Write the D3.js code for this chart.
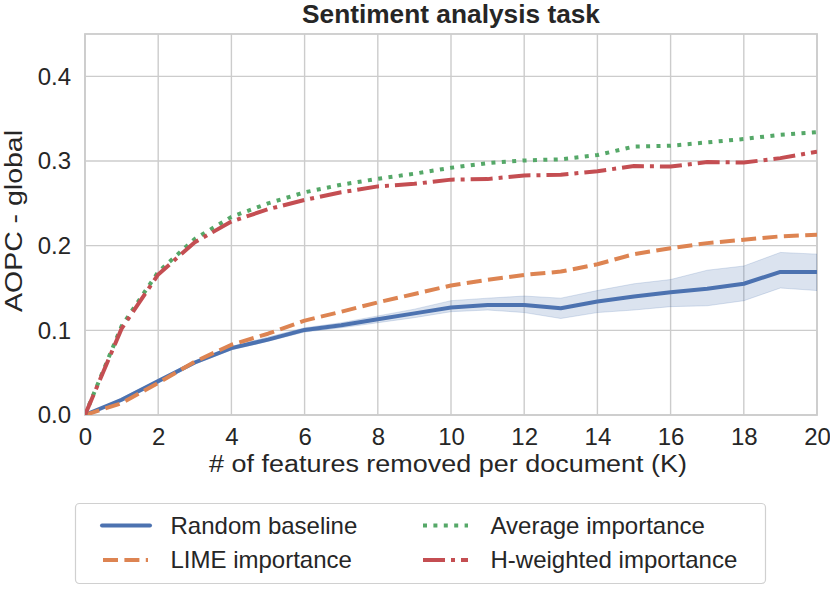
<!DOCTYPE html>
<html>
<head>
<meta charset="utf-8">
<script src="https://cdn.jsdelivr.net/npm/d3@7"></script>
<style>
html,body{margin:0;padding:0;background:#fff;}
text{font-family:"Liberation Sans",Arial,sans-serif;fill:#262626;}
</style>
</head>
<body>
<svg id="chart" width="830" height="596"></svg>
<script>
const K = d3.range(0, 21);
const randomBaseline = [0, 0.018, 0.040, 0.062, 0.079, 0.089, 0.1005, 0.106, 0.113, 0.120, 0.127, 0.130, 0.130, 0.126, 0.134, 0.140, 0.145, 0.149, 0.155, 0.169, 0.169];
const randomLower = [0, 0.016, 0.038, 0.060, 0.077, 0.087, 0.098, 0.103, 0.109, 0.115, 0.122, 0.124, 0.121, 0.114, 0.121, 0.124, 0.128, 0.129, 0.135, 0.150, 0.147];
const randomUpper = [0, 0.020, 0.042, 0.064, 0.081, 0.092, 0.103, 0.109, 0.117, 0.125, 0.135, 0.138, 0.1405, 0.138, 0.147, 0.155, 0.160, 0.171, 0.176, 0.192, 0.190];
const limeImportance = [0, 0.014, 0.038, 0.063, 0.083, 0.096, 0.1115, 0.122, 0.133, 0.143, 0.153, 0.1596, 0.1655, 0.1694, 0.178, 0.190, 0.197, 0.203, 0.207, 0.211, 0.213];
const averageImportance = [0, 0.105, 0.169, 0.208, 0.234, 0.250, 0.263, 0.272, 0.279, 0.285, 0.292, 0.2975, 0.3006, 0.302, 0.307, 0.317, 0.318, 0.322, 0.326, 0.331, 0.334];
const hWeightedImportance = [0, 0.102, 0.166, 0.204, 0.2285, 0.243, 0.254, 0.263, 0.270, 0.273, 0.278, 0.2786, 0.283, 0.2837, 0.288, 0.294, 0.2935, 0.2987, 0.2982, 0.3034, 0.311];
const xTicks = [0, 2, 4, 6, 8, 10, 12, 14, 16, 18, 20];
const yTicks = [0, 0.1, 0.2, 0.3, 0.4];
const seriesNames = ["Random baseline", "LIME importance", "Average importance", "H-weighted importance"];

const svg = d3.select("#chart");
const L = 85, R = 817, T = 34, B = 415;
const x = d3.scaleLinear().domain([0, 20]).range([L, R]);
const y = d3.scaleLinear().domain([0, 0.45]).range([B, T]);
const grid = "#cccccc";

// grid
svg.append("g").selectAll("line").data(xTicks).join("line")
  .attr("x1", d => x(d)).attr("x2", d => x(d)).attr("y1", T).attr("y2", B)
  .attr("stroke", grid).attr("stroke-width", 1.4);
svg.append("g").selectAll("line").data(yTicks).join("line")
  .attr("x1", L).attr("x2", R).attr("y1", d => y(d)).attr("y2", d => y(d))
  .attr("stroke", grid).attr("stroke-width", 1.4);

// axes labels via d3 axes
const xAxis = svg.append("g").attr("transform", `translate(0,${B})`)
  .call(d3.axisBottom(x).tickValues(xTicks).tickSize(0).tickPadding(13).tickFormat(d3.format("d")));
xAxis.select(".domain").remove();
xAxis.selectAll("text").attr("font-size", 24).attr("fill", "#262626").style("font-family", '"Liberation Sans",Arial,sans-serif');
const yAxis = svg.append("g").attr("transform", `translate(${L},0)`)
  .call(d3.axisLeft(y).tickValues(yTicks).tickSize(0).tickPadding(14).tickFormat(d3.format(".1f")));
yAxis.select(".domain").remove();
yAxis.selectAll("text").attr("font-size", 24).attr("fill", "#262626").style("font-family", '"Liberation Sans",Arial,sans-serif');

// frame
svg.append("rect").attr("x", L).attr("y", T).attr("width", R - L).attr("height", B - T)
  .attr("fill", "none").attr("stroke", grid).attr("stroke-width", 1.8);

// clip
svg.append("clipPath").attr("id", "clip").append("rect")
  .attr("x", L).attr("y", T).attr("width", R - L).attr("height", B - T);
const plot = svg.append("g").attr("clip-path", "url(#clip)");

const blue = "#4C72B0", orange = "#DD8452", green = "#55A868", red = "#C44E52";

const area = d3.area().x((d, i) => x(K[i])).y0((d, i) => y(randomLower[i])).y1((d, i) => y(randomUpper[i]));
plot.append("path").datum(randomBaseline).attr("d", area)
  .attr("fill", blue).attr("fill-opacity", 0.2)
  .attr("stroke", blue).attr("stroke-opacity", 0.2).attr("stroke-width", 1);

const line = d3.line().x((d, i) => x(K[i])).y(d => y(d));
const styles = [
  {data: randomBaseline, color: blue, dash: null},
  {data: limeImportance, color: orange, dash: "15,6.4"},
  {data: averageImportance, color: green, dash: "4,6.4"},
  {data: hWeightedImportance, color: red, dash: "22,6,4,6"}
];
styles.forEach(s => {
  plot.append("path").datum(s.data).attr("d", line)
    .attr("fill", "none").attr("stroke", s.color).attr("stroke-width", 4)
    .attr("stroke-dasharray", s.dash).attr("stroke-linejoin", "round")
    .attr("stroke-linecap", s.dash ? "butt" : "round");
});

// title
svg.append("text").attr("x", (L + R) / 2).attr("y", 22.5).attr("text-anchor", "middle")
  .attr("font-size", 25).attr("font-weight", "bold").attr("textLength", 298).attr("lengthAdjust", "spacingAndGlyphs")
  .text("Sentiment analysis task");
// x label
svg.append("text").attr("x", 448).attr("y", 472).attr("text-anchor", "middle")
  .attr("font-size", 23).attr("textLength", 478).attr("lengthAdjust", "spacingAndGlyphs")
  .text("# of features removed per document (K)");
// y label
svg.append("text").attr("transform", `translate(22,221) rotate(-90)`).attr("text-anchor", "middle")
  .attr("font-size", 23).attr("textLength", 182).attr("lengthAdjust", "spacingAndGlyphs")
  .text("AOPC - global");

// legend
const lg = svg.append("g");
lg.append("rect").attr("x", 75.5).attr("y", 503.5).attr("width", 690).attr("height", 80).attr("rx", 4)
  .attr("fill", "#fff").attr("stroke", "#d0d0d0").attr("stroke-width", 1.2);
const legPos = [[100, 525.5], [100, 560], [420, 525.5], [420, 560]];
styles.forEach((s, i) => {
  const [lx, ly] = legPos[i];
  lg.append("line").attr("x1", lx + (s.dash ? 3 : 2)).attr("x2", lx + (s.dash ? 48 : 50)).attr("y1", ly).attr("y2", ly)
    .attr("stroke", s.color).attr("stroke-width", 4).attr("stroke-dasharray", s.dash)
    .attr("stroke-linecap", s.dash ? "butt" : "round");
  lg.append("text").attr("x", lx + 70.5).attr("y", ly + 8.3).attr("font-size", 24).text(seriesNames[i]);
});
</script>
</body>
</html>
